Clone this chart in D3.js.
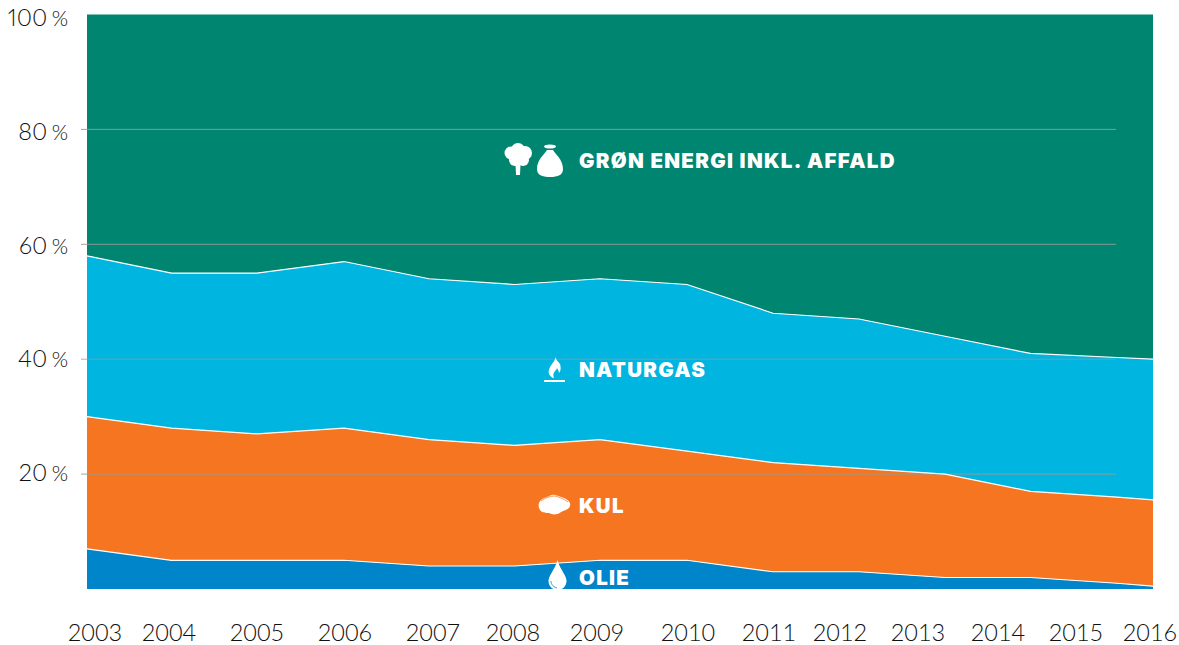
<!DOCTYPE html>
<html>
<head>
<meta charset="utf-8">
<script src="https://cdn.jsdelivr.net/npm/d3@7"></script>
<style>
  html, body { margin: 0; padding: 0; background: #fff; }
  svg { display: block; }
  .tick-label { font-family: Lato, sans-serif; font-size: 23.5px; font-weight: 300; fill: #111; }
  .percent-label { word-spacing: -2px; font-variant-numeric: proportional-nums; }
  .percent-sign { font-size: 21px; }
  .area-label { font-family: Inter, sans-serif; font-size: 20.5px; font-weight: 900; letter-spacing: 1.3px; fill: #fff; }
</style>
</head>
<body>
<svg id="chart"></svg>
<script>
// Data (percent of total)
const years = [2003, 2004, 2005, 2006, 2007, 2008, 2009, 2010, 2011, 2012, 2013, 2014, 2015, 2016];
const olie = [7, 5, 5, 5, 4, 4, 5, 5, 3, 3, 2, 2, 1, 0.5];
const kul = [23, 23, 22, 23, 22, 21, 21, 19, 19, 18, 18, 15, 15, 15];
const naturgas = [28, 27, 28, 29, 28, 28, 28, 29, 26, 26, 24, 24, 24.3, 24.5];
const groen = [42, 45, 45, 43, 46, 47, 46, 47, 52, 53, 56, 59, 59.7, 60];
const percentTicks = [0, 20, 40, 60, 80, 100];
const seriesNames = ["olie", "kul", "naturgas", "groen"];
const seriesColors = ["#0085ca", "#f57520", "#00b5e0", "#008571"];

const width = 1179;
const height = 645;

const svg = d3.select("#chart")
    .attr("width", width)
    .attr("height", height);

// The kinks in the areas and the year labels do not line up in the original,
// so each gets its own scale
const x = d3.scaleOrdinal()
    .domain(years)
    .range([87, 171.5, 257, 344, 429, 514.5, 600, 687, 773, 859, 945, 1030.5, 1117, 1153]);

const xLabel = d3.scaleOrdinal()
    .domain(years)
    .range([95, 169, 257, 345, 433, 513, 597, 688, 769, 840, 918, 998, 1076, 1150]);

const y = d3.scaleLinear()
    .domain([0, 100])
    .range([589, 14.5]);

// Percent labels are spaced a little tighter than the gridlines
const yLabel = d3.scaleLinear()
    .domain([20, 100])
    .range([481, 26]);

const rows = years.map((year, i) => ({
    year,
    olie: olie[i],
    kul: kul[i],
    naturgas: naturgas[i],
    groen: groen[i]
}));

const stack = d3.stack().keys(seriesNames);
const color = d3.scaleOrdinal().domain(seriesNames).range(seriesColors);

const area = d3.area()
    .x(d => x(d.data.year))
    .y0(d => y(d[0]))
    .y1(d => y(d[1]));

const topLine = d3.line()
    .x(d => x(d.data.year))
    .y(d => y(d[1]));

const stacked = stack(rows);

// Areas
svg.append("g")
    .selectAll("path")
    .data(stacked)
    .enter()
    .append("path")
    .attr("d", area)
    .attr("fill", d => color(d.key));

// Gridlines run over the areas, but stop short of the right edge
svg.append("g")
    .selectAll("line")
    .data(percentTicks.filter(d => d > 0 && d < 100))
    .enter()
    .append("line")
    .attr("x1", 81)
    .attr("x2", 1116)
    .attr("y1", d => y(d))
    .attr("y2", d => y(d))
    .attr("stroke", "#999")
    .attr("stroke-opacity", d => d === 40 ? 0.75 : 0.9)
    .attr("stroke-width", 1);

// White edge on top of each band
svg.append("g")
    .selectAll("path")
    .data(stacked.slice(0, 3))
    .enter()
    .append("path")
    .attr("d", topLine)
    .attr("fill", "none")
    .attr("stroke", "#fff")
    .attr("stroke-width", 1.2);

// Axis labels
const percentLabels = svg.append("g")
    .selectAll("text")
    .data(percentTicks.filter(d => d > 0))
    .enter()
    .append("text")
    .attr("class", "tick-label percent-label")
    .attr("x", 68)
    .attr("y", d => yLabel(d))
    .attr("text-anchor", "end")
    .text(d => `${d} `);

// Lato's % is wider than the original's, so it gets a smaller size
percentLabels.append("tspan")
    .attr("class", "percent-sign")
    .text("%");

svg.append("g")
    .selectAll("text")
    .data(years)
    .enter()
    .append("text")
    .attr("class", "tick-label")
    .attr("x", d => xLabel(d))
    .attr("y", 641)
    .attr("text-anchor", "middle")
    .text(d => d);

// Labels inside the areas
const areaLabels = ["GRØN ENERGI INKL. AFFALD", "NATURGAS", "KUL", "OLIE"];
const areaLabelY = [168, 377, 513, 585];

svg.append("g")
    .selectAll("text")
    .data(areaLabels)
    .enter()
    .append("text")
    .attr("class", "area-label")
    .attr("x", 579)
    .attr("y", (d, i) => areaLabelY[i])
    .text(d => d);

// Icons
const icons = svg.append("g").attr("fill", "#fff");

// tree
[[518, 150, 7], [511, 153, 6.5], [525, 153, 7], [515, 160, 6], [523, 160, 6]].forEach(c => {
    icons.append("circle").attr("cx", c[0]).attr("cy", c[1]).attr("r", c[2]);
});
icons.append("path").attr("d", "M515.5 164h5l-.5 11h-4z");

// sack
icons.append("ellipse").attr("cx", 550).attr("cy", 146.5).attr("rx", 6).attr("ry", 2);
icons.append("path")
    .attr("d", "M547 150h6c2 4 10 9 10 19 0 6-5 8-13 8s-13-2-13-8c0-10 8-15 10-19z");

// flame with burner line
icons.append("path")
    .attr("d", "M555 355c1 4-1 6-3 9-3 4-4 7-3 10 1 2 3 4 5 4-1-2-1-5 1-7 1-1 2-2 2-3 1 2 2 3 2 5 2-2 2-6 1-9-2-3-5-5-5-9z");
icons.append("rect").attr("x", 544).attr("y", 380).attr("width", 21).attr("height", 2);

// coal
icons.append("path")
    .attr("d", "M539 503c1-3 4-5 8-6 3-1 5-3 8-2 3 1 8 2 11 4 3 2 5 4 4 7-1 3-4 4-7 5-3 1-4 3-6 3-3 1-6 0-8-1-3 0-7 0-9-3-1-2-2-4-1-7z");
svg.append("path")
    .attr("d", "M541 501c4-3 9-5 14-5 4 1 9 3 13 6")
    .attr("fill", "none")
    .attr("stroke", "#f57520")
    .attr("stroke-width", 0.7);

// drop, with a blue highlight near the bottom
icons.append("path")
    .attr("d", "M557.5 560c1 5 4 9 6 13 2 3 3 6 3 8 0 5-4 9-9 9s-9-4-9-9c0-2 1-5 3-8 2-4 5-8 6-13z");
svg.append("path")
    .attr("d", "M551 581c0 4 3 6 6 7")
    .attr("fill", "none")
    .attr("stroke", "#0085ca")
    .attr("stroke-width", 0.8);
</script>
</body>
</html>
